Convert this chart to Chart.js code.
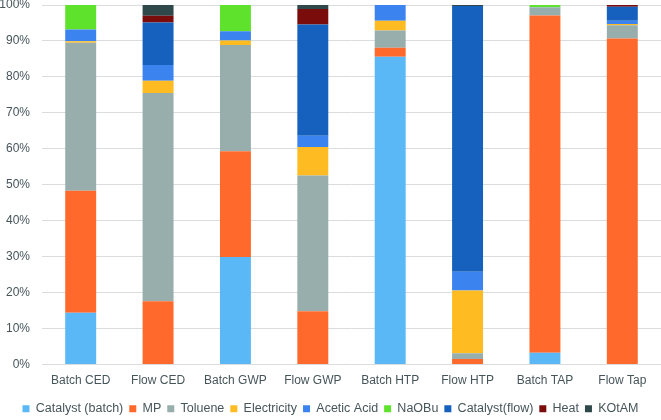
<!DOCTYPE html>
<html lang="en">
<head>
<meta charset="utf-8"/>
<title>Impact contributions</title>
<script src="https://cdn.jsdelivr.net/npm/chart.js"></script>
<style>
  body { margin: 0; background: #fff; }
  #wrap { width: 661px; height: 420px; }
</style>
</head>
<body>
<div id="wrap"><canvas id="grafico" width="661" height="420"></canvas></div>
<script>
  const categorias = ['Batch CED', 'Flow CED', 'Batch GWP', 'Flow GWP', 'Batch HTP', 'Flow HTP', 'Batch TAP', 'Flow Tap'];

  // share of each contributor (%)
  const catalystBatch = [14.4, 0, 29.9, 0, 85.6, 0, 3.3, 0];
  const mp            = [33.9, 17.6, 29.4, 14.8, 2.5, 1.5, 93.8, 90.7];
  const toluene       = [41.2, 57.9, 29.6, 37.8, 4.8, 1.6, 2.2, 3.7];
  const electricity   = [0.4, 3.4, 1.2, 7.9, 2.7, 17.5, 0, 0.3];
  const aceticAcid    = [3.3, 4.4, 2.6, 3.1, 4.4, 5.2, 0.1, 0.9];
  const naobu         = [6.8, 0, 7.3, 0, 0, 0, 0.6, 0];
  const catalystFlow  = [0, 11.8, 0, 31.0, 0, 73.9, 0, 3.9];
  const heat          = [0, 1.9, 0, 4.3, 0, 0, 0, 0.5];
  const kotam         = [0, 3.0, 0, 1.1, 0, 0.3, 0, 0];

  const yTicks = [0, 10, 20, 30, 40, 50, 60, 70, 80, 90, 100];

  const series = [
    ['Catalyst (batch)', catalystBatch, '#5bb8f6'],
    ['MP', mp, '#ff6a2c'],
    ['Toluene', toluene, '#98aead'],
    ['Electricity', electricity, '#ffbc22'],
    ['Acetic Acid', aceticAcid, '#3b83ee'],
    ['NaOBu', naobu, '#5fe22b'],
    ['Catalyst(flow)', catalystFlow, '#1561bd'],
    ['Heat', heat, '#7a0c0c'],
    ['KOtAM', kotam, '#2f494b']
  ];

  const corTexto = '#46555a';
  Chart.defaults.font.family = '"Liberation Sans", Arial, sans-serif';
  Chart.defaults.font.size = 12;
  Chart.defaults.color = corTexto;

  new Chart(document.getElementById('grafico').getContext('2d'), {
    type: 'bar',
    data: {
      labels: categorias,
      datasets: series.map(s => ({
        label: s[0],
        data: s[1],
        backgroundColor: s[2],
        borderWidth: 0,
        barPercentage: 0.4,
        categoryPercentage: 1
      }))
    },
    options: {
      responsive: false,
      animation: false,
      layout: { padding: { top: 5, right: 0, left: 0, bottom: -5 } },
      plugins: {
        legend: {
          position: 'bottom',
          labels: { boxWidth: 7, boxHeight: 7, padding: 6, font: { size: 12.5 } }
        },
        tooltip: { enabled: false }
      },
      scales: {
        x: {
          stacked: true,
          afterFit: axis => { axis.height = 32; axis.paddingLeft = 0; axis.paddingRight = 0; },
          grid: { display: false, drawTicks: false },
          border: { display: false },
          ticks: { padding: 9 }
        },
        y: {
          stacked: true,
          min: 0,
          max: 100,
          afterBuildTicks: axis => { axis.ticks = yTicks.map(v => ({ value: v })); },
          afterFit: axis => { axis.width = 42; axis.paddingTop = 0; axis.paddingBottom = 0; },
          grid: { color: '#d9dde0', drawTicks: false },
          border: { display: false },
          ticks: { padding: 12, callback: v => v + '%' }
        }
      }
    }
  });
</script>
</body>
</html>
